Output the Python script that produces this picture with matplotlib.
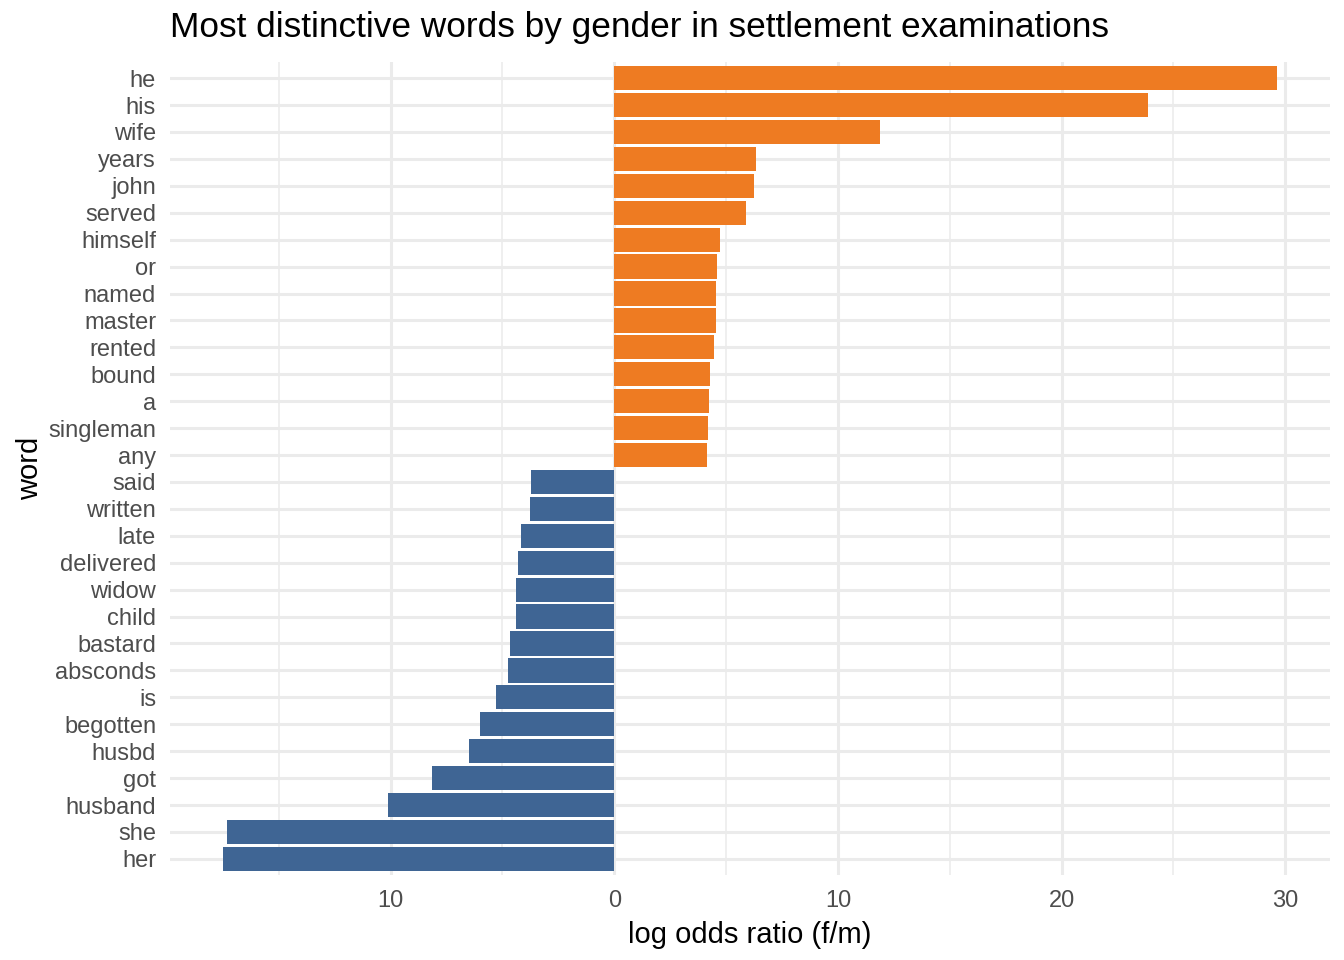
import matplotlib
matplotlib.use("Agg")
import matplotlib.pyplot as plt
from matplotlib.ticker import FixedLocator, FuncFormatter

words = ["he", "his", "wife", "years", "john", "served", "himself", "or", "named",
         "master", "rented", "bound", "a", "singleman", "any",
         "said", "written", "late", "delivered", "widow", "child", "bastard",
         "absconds", "is", "begotten", "husbd", "got", "husband", "she", "her"]
log_odds = [29.64, 23.84, 11.88, 6.34, 6.25, 5.89, 4.73, 4.60, 4.55,
            4.55, 4.46, 4.29, 4.24, 4.20, 4.15,
            -3.71, -3.75, -4.15, -4.29, -4.38, -4.38, -4.64,
            -4.73, -5.27, -5.98, -6.47, -8.13, -10.09, -17.32, -17.50]

plt.rcParams['font.family'] = ['Liberation Sans', 'DejaVu Sans']

fig = plt.figure(figsize=(13.44, 9.6), dpi=100)
ax = fig.add_axes([170/1344, 1-875/960, (1330-170)/1344, (875-62)/960])

n = len(words)
ypos = list(range(n - 1, -1, -1))
colors = ["#EE7B22" if v > 0 else "#3F6594" for v in log_odds]
ax.barh(ypos, log_odds, height=0.9, color=colors, zorder=3)

lo, hi = min(log_odds), max(log_odds)
pad = (hi - lo) * 0.05
ax.set_xlim(lo - pad, hi + pad)
ax.set_ylim(-0.6, n - 1 + 0.6)

ax.xaxis.set_major_locator(FixedLocator([-10, 0, 10, 20, 30]))
ax.xaxis.set_minor_locator(FixedLocator([-15, -5, 5, 15, 25]))
ax.xaxis.set_major_formatter(FuncFormatter(lambda v, p: f"{abs(int(round(v)))}"))
ax.set_yticks(ypos)
ax.set_yticklabels(words)

ax.grid(which='major', axis='both', color='#EBEBEB', linewidth=2.2, zorder=0)
ax.grid(which='minor', axis='x', color='#EBEBEB', linewidth=1.1, zorder=0)
for s in ax.spines.values():
    s.set_visible(False)
ax.tick_params(which='both', length=0)
ax.tick_params(axis='both', labelsize=17, labelcolor='#4D4D4D')
ax.tick_params(axis='x', pad=11)
ax.tick_params(axis='y', pad=10)

ax.set_xlabel("log odds ratio (f/m)", fontsize=21, labelpad=6)
ax.set_ylabel("word", fontsize=21, labelpad=3)
fig.text(170/1344, 1-28/960, "Most distinctive words by gender in settlement examinations",
         fontsize=25.4, ha='left', va='center')

fig.savefig("out.png", dpi=100)
